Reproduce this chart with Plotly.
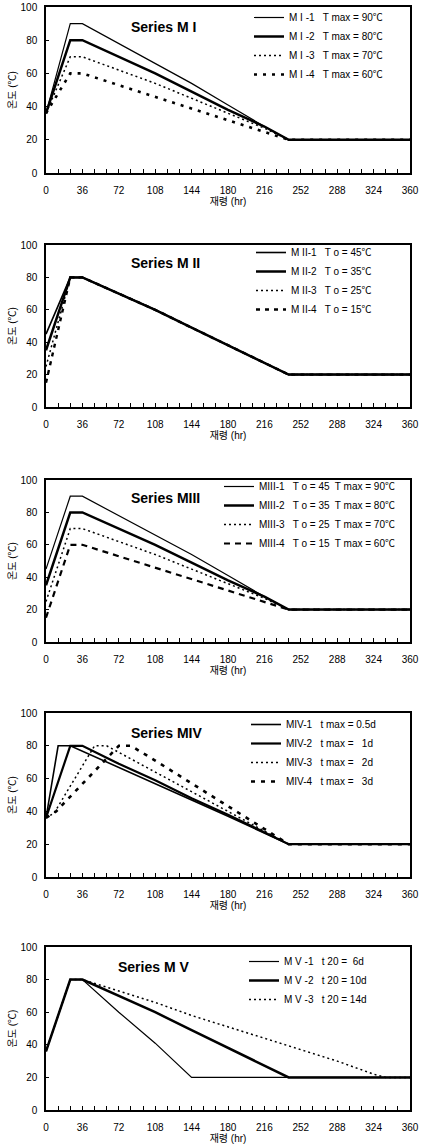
import plotly.graph_objects as go

# ---------------- data ----------------
# Series M I
t_m1 = [0, 24, 36, 72, 108, 144, 180, 216, 240, 360]
m1_1 = [36, 90, 90, 78, 66, 54, 41, 28, 20, 20]
m1_2 = [36, 80, 80, 70, 60, 49, 38, 28, 20, 20]
m1_3 = [36, 70, 70, 62, 54, 45, 36, 27, 20, 20]
m1_4 = [36, 60, 60, 53, 46, 39, 32, 25, 20, 20]
m1_names = ["M I -1\u00a0\u00a0 T max = 90\u2103", "M I -2\u00a0\u00a0 T max = 80\u2103",
            "M I -3\u00a0\u00a0 T max = 70\u2103", "M I -4\u00a0\u00a0 T max = 60\u2103"]

# Series M II
t_m2 = [0, 24, 36, 72, 108, 144, 180, 216, 240, 360]
m2_1 = [45, 80, 80, 70, 60, 49, 38, 27, 20, 20]
m2_2 = [35, 80, 80, 70, 60, 49, 38, 27, 20, 20]
m2_3 = [25, 80, 80, 70, 60, 49, 38, 27, 20, 20]
m2_4 = [15, 80, 80, 70, 60, 49, 38, 27, 20, 20]
m2_names = ["M II-1\u00a0\u00a0 T o = 45\u2103", "M II-2\u00a0\u00a0 T o = 35\u2103",
            "M II-3\u00a0\u00a0 T o = 25\u2103", "M II-4\u00a0\u00a0 T o = 15\u2103"]

# Series M III
t_m3 = [0, 24, 36, 72, 108, 144, 180, 216, 240, 360]
m3_1 = [45, 90, 90, 78, 66, 54, 41, 28, 20, 20]
m3_2 = [35, 80, 80, 70, 60, 49, 38, 28, 20, 20]
m3_3 = [25, 70, 70, 62, 54, 45, 36, 27, 20, 20]
m3_4 = [15, 60, 60, 53, 46, 39, 32, 25, 20, 20]
m3_names = ["MIII-1\u00a0\u00a0 T o = 45\u00a0 T max = 90\u2103", "MIII-2\u00a0\u00a0 T o = 35\u00a0 T max = 80\u2103",
            "MIII-3\u00a0\u00a0 T o = 25\u00a0 T max = 70\u2103", "MIII-4\u00a0\u00a0 T o = 15\u00a0 T max = 60\u2103"]

# Series M IV
t_m4_1 = [0, 12, 24, 72, 108, 144, 180, 216, 240, 360]
m4_1 = [36, 80, 80, 67, 57, 47, 37, 27, 20, 20]
t_m4_2 = [0, 24, 36, 72, 108, 144, 180, 216, 240, 360]
m4_2 = [36, 80, 80, 69, 59, 48, 38, 27, 20, 20]
t_m4_3 = [0, 8, 48, 60, 108, 144, 180, 216, 240, 360]
m4_3 = [36, 39, 80, 80, 64, 52, 40, 28, 20, 20]
t_m4_4 = [0, 10, 72, 84, 108, 144, 180, 216, 240, 360]
m4_4 = [36, 40, 80, 80, 71, 57, 43, 29, 20, 20]
m4_names = ["MIV-1\u00a0\u00a0 t max = 0.5d", "MIV-2\u00a0\u00a0 t max =\u00a0\u00a0 1d",
            "MIV-3\u00a0\u00a0 t max =\u00a0\u00a0 2d", "MIV-4\u00a0\u00a0 t max =\u00a0\u00a0 3d"]

# Series M V
t_m5_1 = [0, 24, 36, 72, 108, 144, 360]
m5_1 = [36, 80, 80, 60, 41, 20, 20]
t_m5_2 = [0, 24, 36, 72, 108, 144, 180, 216, 240, 360]
m5_2 = [36, 80, 80, 70, 60, 49, 38, 27, 20, 20]
t_m5_3 = [0, 24, 36, 72, 108, 144, 180, 216, 252, 288, 324, 336, 360]
m5_3 = [36, 80, 80, 73, 66, 58, 51, 44, 37, 30, 22, 20, 20]
m5_names = ["M V -1\u00a0\u00a0 t 20 =\u00a0 6d", "M V -2\u00a0\u00a0 t 20 = 10d", "M V -3\u00a0\u00a0 t 20 = 14d"]

panel_titles = ["Series M I", "Series M II", "Series MIII", "Series MIV", "Series M V"]
x_ticks = [0, 36, 72, 108, 144, 180, 216, 252, 288, 324, 360]
y_ticks = [0, 20, 40, 60, 80, 100]
x_title = "재령 (hr)"
y_title = "온도 (\u2103)"

# ---------------- styles ----------------
FONT = "Arial, 'Liberation Sans', 'Noto Sans CJK KR', sans-serif"
W, H = 428, 1144
ML, MR, MT, MB = 46, 18, 7, 34
PH = H - MT - MB
PW = W - ML - MR
# pixel (top, bottom) of each panel
panel_px = [(7, 173), (245, 407), (480, 642), (713, 877), (947, 1110)]
# legend top (px), legend left (px)
legend_px = [(3, 249), (238, 251), (472, 219), (710, 246), (947, 244)]
title_px = [(163, 20), (165, 18), (165, 18), (166, 20), (153, 20)]

thin = dict(color="black", width=1.2)
thick = dict(color="black", width=2.5)
dotted = dict(color="black", width=1.5, dash="2px,3px")

panels = [
    [(t_m1, m1_1, thin), (t_m1, m1_2, thick), (t_m1, m1_3, dotted),
     (t_m1, m1_4, dict(color="black", width=2.6, dash="3px,6px"))],
    [(t_m2, m2_1, dict(color="black", width=1.6)), (t_m2, m2_2, thick), (t_m2, m2_3, dotted),
     (t_m2, m2_4, dict(color="black", width=2.4, dash="4px,5px"))],
    [(t_m3, m3_1, thin), (t_m3, m3_2, thick), (t_m3, m3_3, dotted),
     (t_m3, m3_4, dict(color="black", width=2.2, dash="6px,5px"))],
    [(t_m4_1, m4_1, dict(color="black", width=1.6)), (t_m4_2, m4_2, dict(color="black", width=2.2)),
     (t_m4_3, m4_3, dotted), (t_m4_4, m4_4, dict(color="black", width=2.6, dash="4px,6px"))],
    [(t_m5_1, m5_1, thin), (t_m5_2, m5_2, thick), (t_m5_3, m5_3, dotted)],
]
names = [m1_names, m2_names, m3_names, m4_names, m5_names]

fig = go.Figure()
layout = dict(
    width=W, height=H,
    margin=dict(l=ML, r=MR, t=MT, b=MB, autoexpand=False),
    paper_bgcolor="white", plot_bgcolor="white",
    font=dict(family=FONT, size=10, color="black"),
    annotations=[],
)

for i, series in enumerate(panels):
    k = "" if i == 0 else str(i + 1)
    top, bot = panel_px[i]
    dom = [(H - MB - bot) / PH, (H - MB - top) / PH]
    lg = "legend" + k
    for (tx, ty, ln), nm in zip(series, names[i]):
        fig.add_trace(go.Scatter(x=tx, y=ty, mode="lines", line=ln, name=nm,
                                 xaxis="x" + k, yaxis="y" + k, legend=lg,
                                 hoverinfo="skip"))
    layout["xaxis" + k] = dict(
        domain=[0, 1], anchor="y" + k, range=[0, 360], automargin=False,
        tickvals=x_ticks, ticks="inside", ticklen=4, tickcolor="black",
        minor=dict(dtick=12, tick0=0, ticks="inside", ticklen=4, tickcolor="black"),
        showgrid=False, zeroline=False, showline=True, mirror=True,
        linecolor="black", linewidth=1.5, ticklabelstandoff=7,
        tickfont=dict(size=10, family=FONT, color="black"),
        title=dict(text=x_title, font=dict(size=10, family=FONT), standoff=3),
    )
    layout["yaxis" + k] = dict(
        domain=dom, anchor="x" + k, range=[0, 100], automargin=True,
        tickvals=y_ticks, ticks="inside", ticklen=3, tickcolor="black",
        showgrid=False, zeroline=False, showline=True, mirror=True,
        linecolor="black", linewidth=1.5, ticklabelstandoff=5,
        tickfont=dict(size=10, family=FONT, color="black"),
        title=dict(text=y_title, font=dict(size=10, family=FONT), standoff=2),
    )
    ltop, lleft = legend_px[i]
    layout[lg] = dict(
        x=(lleft - ML) / PW, y=(H - MB - ltop) / PH, xanchor="left", yanchor="top",
        bgcolor="rgba(0,0,0,0)", borderwidth=0, tracegroupgap=0, itemwidth=30,
        font=dict(size=10, family=FONT, color="black"), itemclick=False,
    )
    cx, dy = title_px[i]
    layout["annotations"].append(dict(
        text="<b>" + panel_titles[i] + "</b>", xref="x" + k + " domain", yref="y" + k + " domain",
        x=(cx - ML) / PW, y=1 - dy / (bot - top), xanchor="center", yanchor="middle",
        showarrow=False, font=dict(size=14, family=FONT, color="black"),
    ))

fig.update_layout(**layout)
fig.write_html("out.html", config={"displayModeBar": False},
               post_script="document.body.style.margin='0';")
